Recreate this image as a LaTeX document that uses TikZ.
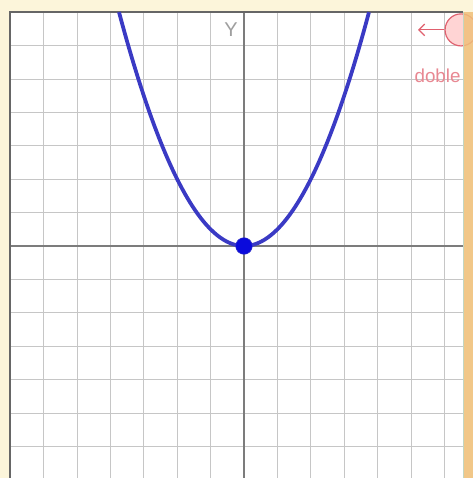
\documentclass[tikz,border=0pt]{standalone}
\usepackage{fontspec}
\setsansfont{Liberation Sans}
\usepackage{tikz}
\usetikzlibrary{arrows.meta}

\definecolor{paper}{HTML}{FCF5DA}
\definecolor{gridline}{HTML}{C6C6C6}
\definecolor{axisline}{HTML}{7C7C7C}
\definecolor{curveblue}{HTML}{3A3AC4}
\definecolor{dotblue}{HTML}{0A0ADC}
\definecolor{pinkred}{HTML}{E0606E}
\definecolor{pinkfill}{HTML}{FFD4D4}
\definecolor{barorange}{HTML}{F0C07A}

\begin{document}
\begin{tikzpicture}[x=1cm, y=1cm, every node/.style={font=\sffamily}]
  \useasboundingbox (-7.305,-6.946) rectangle (6.856,7.365);
  \fill[paper] (-7.305,-6.946) rectangle (6.856,7.365);
  \fill[white] (-7,-6.946) rectangle (6.56,7);
  % grid
  \foreach \i in {-6,...,6}
    \draw[gridline, line width=0.8pt] (\i,-6.946) -- (\i,7);
  \foreach \j in {-6,...,6}
    \draw[gridline, line width=0.8pt] (-7,\j) -- (6.56,\j);
  \draw[axisline, line width=1.3pt] (0,-6.946) -- (0,7);
  \draw[axisline, line width=1.3pt] (-7,0) -- (6.56,0);
  \draw[black!60, line width=1.5pt] (-7,-6.946) -- (-7,7) -- (6.56,7);
  \node[text=gray!75, font=\sffamily\fontsize{17}{17}\selectfont] (ylabel) at (-0.39,6.47) {Y};
  % parabola
  \draw[curveblue, line width=3.2pt, domain=-3.742:3.742, samples=80, smooth] plot (\x,{0.5*\x*\x});
  \node[circle, fill=dotblue, draw=curveblue, inner sep=0pt, minimum size=0.5cm] (vertex) at (0,0) {};
  % slider button
  \node[circle, fill=pinkfill, draw=pinkred, line width=1pt, minimum size=0.96cm, inner sep=0pt] (btn) at (6.5,6.47) {};
  \coordinate (tip) at (5.21,6.47);
  \draw[pinkred, line width=1pt, -{Straight Barb[length=5pt,width=10pt]}] (btn.west) -- (tip);
  \node[anchor=west, text=pinkred!75, inner sep=0pt, font=\sffamily\fontsize{16}{16}\selectfont] (doble) at (5.1,5.1) {doble};
  % side bar
  \draw[green!20!gray!40, line width=0.8pt] (6.57,-6.946) -- (6.57,7);
  \fill[barorange, opacity=0.85] (6.6,-6.946) rectangle (6.856,7);
\end{tikzpicture}
\end{document}
